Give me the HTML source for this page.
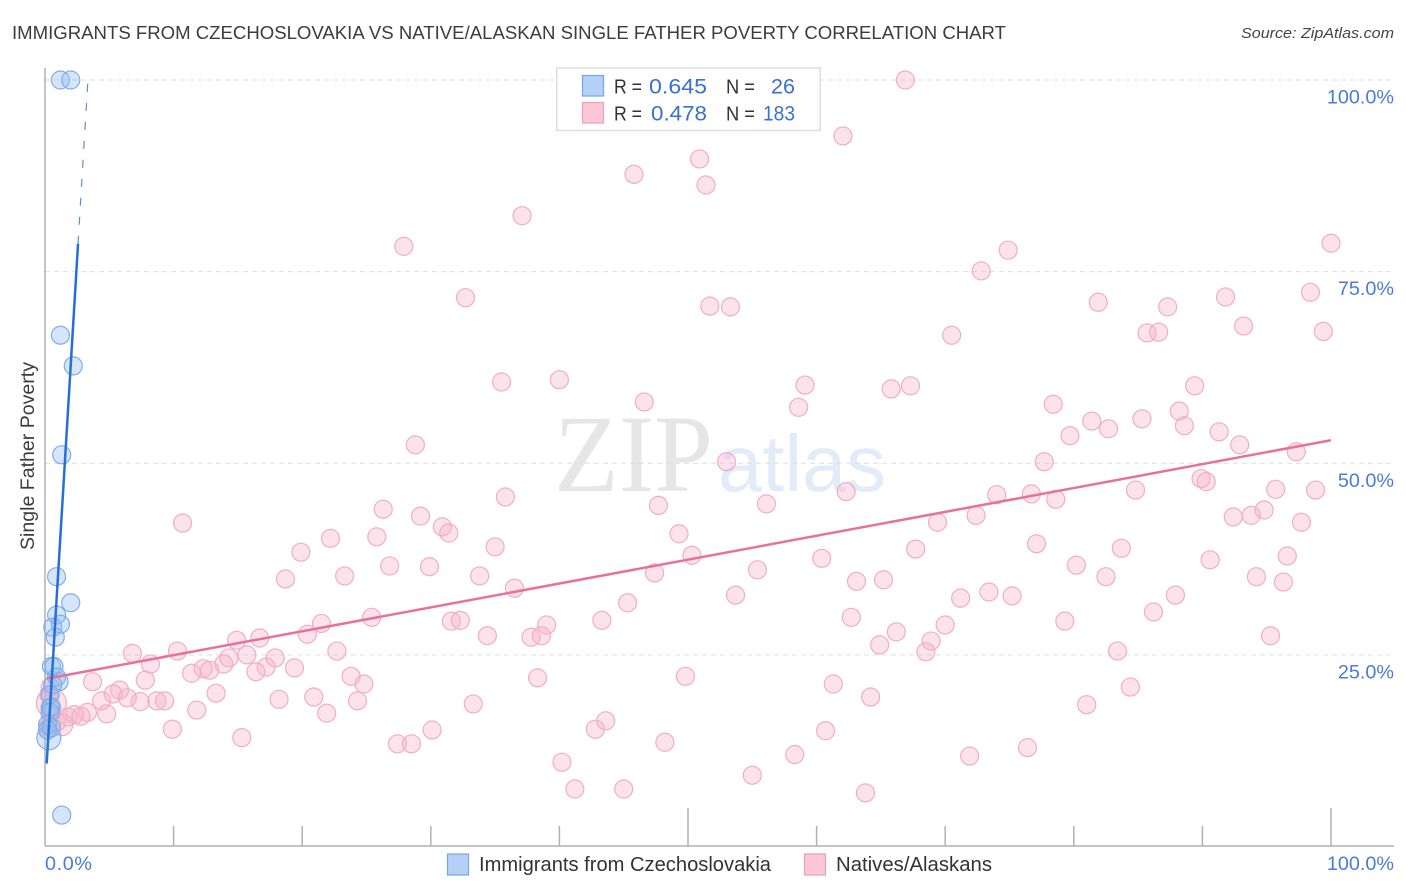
<!DOCTYPE html>
<html lang="en">
<head>
<meta charset="utf-8">
<title>Immigrants from Czechoslovakia vs Native/Alaskan Single Father Poverty Correlation Chart</title>
<style>
html,body{margin:0;padding:0;background:#fff;width:1406px;height:892px;overflow:hidden}
svg{display:block;font-family:"Liberation Sans",sans-serif}
</style>
</head>
<body>
<svg id="chart" width="1406" height="892" viewBox="0 0 1406 892" xmlns="http://www.w3.org/2000/svg">
  <rect x="0" y="0" width="1406" height="892" fill="#ffffff"/>
  <text x="12" y="39" font-size="18.5" fill="#3c3c3c" textLength="994" lengthAdjust="spacingAndGlyphs">IMMIGRANTS FROM CZECHOSLOVAKIA VS NATIVE/ALASKAN SINGLE FATHER POVERTY CORRELATION CHART</text>
  <text x="1241" y="38" font-size="15" font-style="italic" fill="#444444" textLength="153" lengthAdjust="spacingAndGlyphs">Source: ZipAtlas.com</text>

  <g>
    <text x="554" y="491" font-family="'Liberation Serif',serif" font-size="110" fill="#e6e6e6" textLength="159" lengthAdjust="spacingAndGlyphs">ZIP</text>
    <text x="718" y="491" font-size="80" fill="#e2ecf9" textLength="168" lengthAdjust="spacingAndGlyphs">atlas</text>
  </g>

  <g id="grid"></g>
  <g id="axes">
    <line x1="45" y1="68" x2="45" y2="846" stroke="#b0b0b0" stroke-width="1.5"/>
    <line x1="45" y1="846" x2="1394" y2="846" stroke="#b0b0b0" stroke-width="1.5"/>
  </g>
  <g id="xticks"></g>
  <g id="ylabels"></g>
  <g id="xlabels"></g>
  <text transform="translate(34,550) rotate(-90)" font-size="19" fill="#3c3c3c" textLength="188" lengthAdjust="spacingAndGlyphs">Single Father Poverty</text>

  <g id="pink-points"></g>
  <g id="blue-points"></g>
  <g id="trends"></g>

  <g>
    <rect x="556.75" y="68" width="263.5" height="62.5" fill="#ffffff" stroke="#dddddd" stroke-width="1.5"/>
    <rect x="582.5" y="75.5" width="21" height="20.5" fill="#b5d0f6" stroke="#74a5e6" stroke-width="1.2"/>
    <rect x="582.5" y="102.5" width="21" height="20.5" fill="#fcc5d8" stroke="#ee9fbb" stroke-width="1.2"/>
    <text x="614" y="93.5" font-size="20" fill="#333333" textLength="28" lengthAdjust="spacingAndGlyphs">R =</text>
    <text x="649" y="93.5" font-size="21" fill="#3a70cf" textLength="58" lengthAdjust="spacingAndGlyphs">0.645</text>
    <text x="726" y="93.5" font-size="20" fill="#333333" textLength="29" lengthAdjust="spacingAndGlyphs">N =</text>
    <text x="771" y="93.5" font-size="21" fill="#3a70cf" textLength="24" lengthAdjust="spacingAndGlyphs">26</text>
    <text x="614" y="120.5" font-size="20" fill="#333333" textLength="28" lengthAdjust="spacingAndGlyphs">R =</text>
    <text x="651" y="120.5" font-size="21" fill="#3a70cf" textLength="56" lengthAdjust="spacingAndGlyphs">0.478</text>
    <text x="726" y="120.5" font-size="20" fill="#333333" textLength="29" lengthAdjust="spacingAndGlyphs">N =</text>
    <text x="763" y="120.5" font-size="21" fill="#3a70cf" textLength="32" lengthAdjust="spacingAndGlyphs">183</text>
  </g>

  <g>
    <rect x="447.5" y="854" width="21" height="21" fill="#b5d0f6" stroke="#74a5e6" stroke-width="1.2"/>
    <text x="479" y="871" font-size="20" fill="#333333" textLength="292" lengthAdjust="spacingAndGlyphs">Immigrants from Czechoslovakia</text>
    <rect x="804.5" y="854" width="21" height="21" fill="#fcc5d8" stroke="#ee9fbb" stroke-width="1.2"/>
    <text x="836" y="871" font-size="20" fill="#333333" textLength="156" lengthAdjust="spacingAndGlyphs">Natives/Alaskans</text>
  </g>
</svg>
<script>
const xTickValues = [10, 20, 30, 40, 50, 60, 70, 80, 90, 100];
const xMajorTicks = [50, 100];
const yGridValues = [100, 75, 50, 25];
const yTickLabels = ['100.0%', '75.0%', '50.0%', '25.0%'];
const xAxisValues = [0, 100];
const xAxisLabels = ['0.0%', '100.0%'];

const nativesX = [66.9,62.05,50.9,51.4,45.8,37.1,27.9,100,74.9,72.8,32.7,51.7,53.3,81.9,91.8,98.4,87.3,70.5,85.7,86.6,93.2,99.4,35.5,40.0,59.1,65.8,67.3,89.4,46.6,58.6,78.4,88.2,85.3,81.4,82.7,88.6,79.7,91.3,28.8,92.9,97.3,53.0,77.7,89.9,90.3,84.8,95.7,98.8,62.3,74.0,76.7,78.6,35.8,47.7,56.1,26.3,94.8,72.4,92.4,93.8,29.2,10.7,69.4,97.7,30.9,31.4,49.3,22.2,25.8,35.0,77.1,83.7,19.9,50.3,67.7,60.4,96.6,90.6,26.8,29.9,55.4,80.2,47.4,23.3,33.8,18.7,63.1,65.2,82.5,94.2,96.3,36.5,53.7,73.4,71.2,75.2,87.9,45.3,86.2,25.4,62.7,31.6,32.3,43.3,21.5,39.0,70.0,79.3,20.4,66.2,34.4,37.8,38.6,14.9,16.7,95.3,68.9,64.9,6.8,10.3,22.7,68.5,83.4,15.7,14.3,17.9,8.2,19.4,13.9,17.2,16.4,12.3,12.8,11.4,23.8,49.8,7.8,38.3,3.7,24.8,61.3,84.4,13.3,5.8,5.3,18.2,20.9,64.2,6.4,4.4,7.4,8.7,9.3,24.3,33.3,81.0,11.8,21.9,3.3,4.8,43.6,9.9,42.8,30.1,60.7,15.3,48.2,27.4,28.5,76.4,58.3,71.9,40.2,55.0,41.2,45.0,63.8,0.4,0.3,1.8,2.3,2.8,0.4,0.4,0.9,0.2];
const nativesY = [100,92.7,89.7,86.3,87.7,82.3,78.3,78.7,77.8,75.1,71.6,70.5,70.4,71.0,71.7,72.3,70.4,66.7,67.0,67.1,67.9,67.2,60.6,60.9,60.2,59.7,60.1,60.1,58.0,57.3,57.7,56.8,55.8,55.5,54.5,54.9,53.6,54.1,52.4,52.4,51.5,50.2,50.2,48.0,47.6,46.5,46.6,46.5,46.3,45.9,46.0,45.3,45.6,44.5,44.7,44.0,43.9,43.2,43.0,43.2,43.1,42.2,42.3,42.3,41.7,40.9,40.8,40.2,40.4,39.1,39.5,38.9,38.4,38.0,38.8,37.6,37.9,37.4,36.6,36.5,36.1,36.7,35.7,35.3,35.3,34.9,34.6,34.8,35.2,35.2,34.5,33.7,32.8,33.2,32.4,32.7,32.8,31.8,30.6,29.9,29.9,29.4,29.5,29.5,29.1,28.9,28.9,29.4,27.7,28.0,27.5,27.3,27.5,26.9,27.2,27.5,26.8,26.3,25.2,25.5,25.5,25.4,25.5,25.0,24.6,24.6,23.8,23.3,23.8,23.4,22.8,23.2,23.0,22.6,22.2,22.2,21.7,22.0,21.5,21.2,21.2,20.8,20.0,20.4,19.9,19.2,19.5,19.5,19.4,19.0,18.9,19.0,19.0,19.0,18.6,18.5,17.8,17.4,17.5,17.3,16.4,15.3,15.3,15.2,15.1,14.2,13.6,13.4,13.4,12.9,12.0,11.8,11.0,9.3,7.5,7.5,7.0,20.8,19.8,16.9,17.2,17.0,17.2,15.9,16.2,15.5];
const nativesLargeX = [0.5, 1.3];
const nativesLargeY = [18.7, 15.9];
const nativesLargeSize = [15, 11];

const immigrantsX = [1.2,2.0,1.2,2.2,1.3,0.9,2.0,0.9,0.6,1.2,0.8,0.5,0.7,0.9,1.1,0.6,0.4,0.4,0.5,0.4,0.2,0.2,0.5,1.3];
const immigrantsY = [100,100,66.7,62.7,51.1,35.2,31.8,30.2,28.6,29.0,27.3,23.5,23.5,22.1,21.5,21.1,19.8,18.1,18.2,17.5,15.9,15.2,15.5,4.1];
const immigrantsLargeX = [0.3];
const immigrantsLargeY = [14.2];
const immigrantsLargeSize = [12];

const immigrantsTrend = [7.2, 27.8];
const immigrantsSolidRange = [0.13, 2.57];
const immigrantsDashedRange = [2.57, 3.34];
const nativesTrend = [21.85, 0.3115];
const nativesRange = [0.15, 100];

const NS = 'http://www.w3.org/2000/svg';
const xScale = function (v) { return 45 + v * 12.86; };
const yScale = function (v) { return 846.5 - v * 7.665; };
const make = function (tag, parent, attrs) {
  const el = document.createElementNS(NS, tag);
  Object.keys(attrs).forEach(function (k) { el.setAttribute(k, attrs[k]); });
  parent.appendChild(el);
  return el;
};

const gridG = document.getElementById('grid');
yGridValues.forEach(function (v) {
  const el = make('line', gridG, { x1: 45, x2: 1394, y1: yScale(v), y2: yScale(v), stroke: '#dddddd', 'stroke-width': 1, 'stroke-dasharray': '5 4' });
  
  
});

const xTickG = document.getElementById('xticks');
xTickValues.forEach(function (v) {
  const top = xMajorTicks.indexOf(v) >= 0 ? 808 : 826;
  const el = make('line', xTickG, { x1: xScale(v), x2: xScale(v), y1: top, y2: 846, stroke: '#b0b0b0', 'stroke-width': 1.5 });
  
  
});

const yLabelG = document.getElementById('ylabels');
yGridValues.forEach(function (v, i) {
  const el = make('text', yLabelG, { x: 1394, y: yScale(v) + 23.5, 'text-anchor': 'end', 'font-size': 19.8, fill: '#4a7bd6' });
  el.textContent = yTickLabels[i];
  
  
});

const xLabelG = document.getElementById('xlabels');
xAxisValues.forEach(function (v, i) {
  const el = make('text', xLabelG, { x: i === 0 ? xScale(v) : 1394, y: 870, 'text-anchor': i === 0 ? 'start' : 'end', 'font-size': 19.8, fill: '#4a7bd6' });
  el.textContent = xAxisLabels[i];
  if (i === 0) { el.setAttribute('textLength', 47); }
  
  
});

const pinkG = document.getElementById('pink-points');
const addPink = function (x, y, r) {
  const el = make('circle', pinkG, { cx: xScale(x), cy: yScale(y), r: r, fill: 'rgba(248,175,200,0.36)', stroke: '#efaec6', 'stroke-width': 1.2 });
  
  
};
nativesLargeX.forEach(function (x, i) { addPink(x, nativesLargeY[i], nativesLargeSize[i]); });
nativesX.forEach(function (x, i) { addPink(x, nativesY[i], 9); });

const blueG = document.getElementById('blue-points');
const addBlue = function (x, y, r) {
  const el = make('circle', blueG, { cx: xScale(x), cy: yScale(y), r: r, fill: 'rgba(140,185,240,0.36)', stroke: '#80ade6', 'stroke-width': 1.2 });
  
  
};
immigrantsLargeX.forEach(function (x, i) { addBlue(x, immigrantsLargeY[i], immigrantsLargeSize[i]); });
immigrantsX.forEach(function (x, i) { addBlue(x, immigrantsY[i], 9); });

const trendG = document.getElementById('trends');
const lineY = function (t, x) { return t[0] + t[1] * x; };
const nativeLine = make('line', trendG, { x1: xScale(nativesRange[0]), y1: yScale(lineY(nativesTrend, nativesRange[0])), x2: xScale(nativesRange[1]), y2: yScale(lineY(nativesTrend, nativesRange[1])), stroke: '#e8709d', 'stroke-width': 2.5 });


const solidLine = make('line', trendG, { x1: xScale(immigrantsSolidRange[0]), y1: yScale(lineY(immigrantsTrend, immigrantsSolidRange[0])), x2: xScale(immigrantsSolidRange[1]), y2: yScale(lineY(immigrantsTrend, immigrantsSolidRange[1])), stroke: '#2470d8', 'stroke-width': 2.5 });


const dashedLine = make('line', trendG, { x1: xScale(immigrantsDashedRange[0]), y1: yScale(lineY(immigrantsTrend, immigrantsDashedRange[0])), x2: xScale(immigrantsDashedRange[1]), y2: yScale(lineY(immigrantsTrend, immigrantsDashedRange[1])), stroke: '#5e8fd8', 'stroke-width': 1.2, 'stroke-dasharray': '8 11' });


</script>
</body>
</html>
